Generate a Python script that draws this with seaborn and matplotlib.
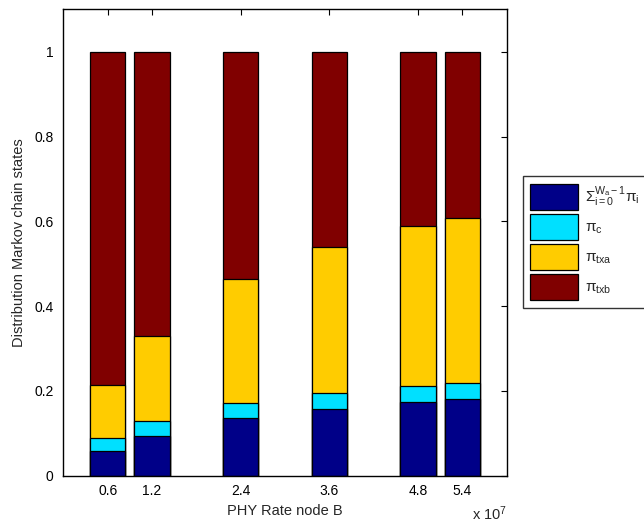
import matplotlib
matplotlib.use("Agg")
import matplotlib.pyplot as plt
import seaborn as sns
import pandas as pd
import numpy as np

# Data
rates = [0.6, 1.2, 2.4, 3.6, 4.8, 5.4]          # x 10^7
tick_labels = ["0.6", "1.2", "2.4", "3.6", "4.8", "5.4"]
pi_backoff = [0.058, 0.093, 0.135, 0.158, 0.173, 0.180]
pi_c = [0.031, 0.036, 0.036, 0.037, 0.039, 0.038]
pi_txa = [0.126, 0.201, 0.293, 0.345, 0.376, 0.390]
pi_txb = [1 - a - b - c for a, b, c in zip(pi_backoff, pi_c, pi_txa)]

labels = [r"$\Sigma_{i=0}^{W_a-1}\pi_i$", r"$\pi_c$", r"$\pi_{txa}$", r"$\pi_{txb}$"]
colors = ["#000088", "#00E0FF", "#FFCC00", "#800000"]

sns.set_style("white")
plt.rcParams["font.family"] = ["Liberation Sans", "DejaVu Sans"]
plt.rcParams["mathtext.fontset"] = "custom"
plt.rcParams["mathtext.rm"] = "Liberation Sans"
plt.rcParams["mathtext.it"] = "Liberation Sans"
plt.rcParams["mathtext.bf"] = "Liberation Sans:bold"
plt.rcParams["mathtext.sf"] = "Liberation Sans"
plt.rcParams["mathtext.default"] = "regular"

series = [pi_backoff, pi_c, pi_txa, pi_txb]
cum = np.cumsum(np.array(series), axis=0)

df = pd.DataFrame({"rate": rates})
for i in range(4):
    df[f"c{i}"] = cum[i]

fig = plt.figure(figsize=(6.44, 5.24), dpi=100)
ax = fig.add_axes([0.0983, 0.0922, 0.6885, 0.8897])

for i in [3, 2, 1, 0]:
    sns.barplot(data=df, x="rate", y=f"c{i}", native_scale=True, color=colors[i],
                saturation=1, edgecolor="black", linewidth=0.9, width=0.8,
                ax=ax, label=labels[i], errorbar=None)

ax.set_xlim(0, 6)
ax.set_ylim(0, 1.1)
ax.set_xticks(rates)
ax.set_xticklabels(tick_labels)
ax.set_yticks([0, 0.2, 0.4, 0.6, 0.8, 1.0])
ax.set_yticklabels(["0", "0.2", "0.4", "0.6", "0.8", "1"])
ax.tick_params(direction="in", length=4, width=0.8, top=True, right=True,
               labelsize=10, colors="black", pad=6)
ax.tick_params(axis="y", pad=7)
for s in ax.spines.values():
    s.set_visible(True)
    s.set_color("black")
    s.set_linewidth(1.0)

ax.set_xlabel("PHY Rate node B", fontsize=10.5, labelpad=4)
ax.set_ylabel("Distribution Markov chain states", fontsize=10.5, labelpad=6)
ax.text(1.0, -0.082, r"x 10$^{7}$", transform=ax.transAxes, ha="right", va="center", fontsize=10.5)

handles, labs = ax.get_legend_handles_labels()
order = [labs.index(l) for l in labels]
leg = ax.legend([handles[k] for k in order], [labs[k] for k in order],
                loc="upper left", bbox_to_anchor=(1.036, 0.642), fontsize=11,
                handlelength=3.15, handleheight=2.25, labelspacing=0.26,
                handletextpad=0.4, borderpad=0.5, frameon=True, fancybox=False,
                edgecolor="black", borderaxespad=0)
leg.get_frame().set_linewidth(1.0)

fig.savefig("out.png", dpi=100)
